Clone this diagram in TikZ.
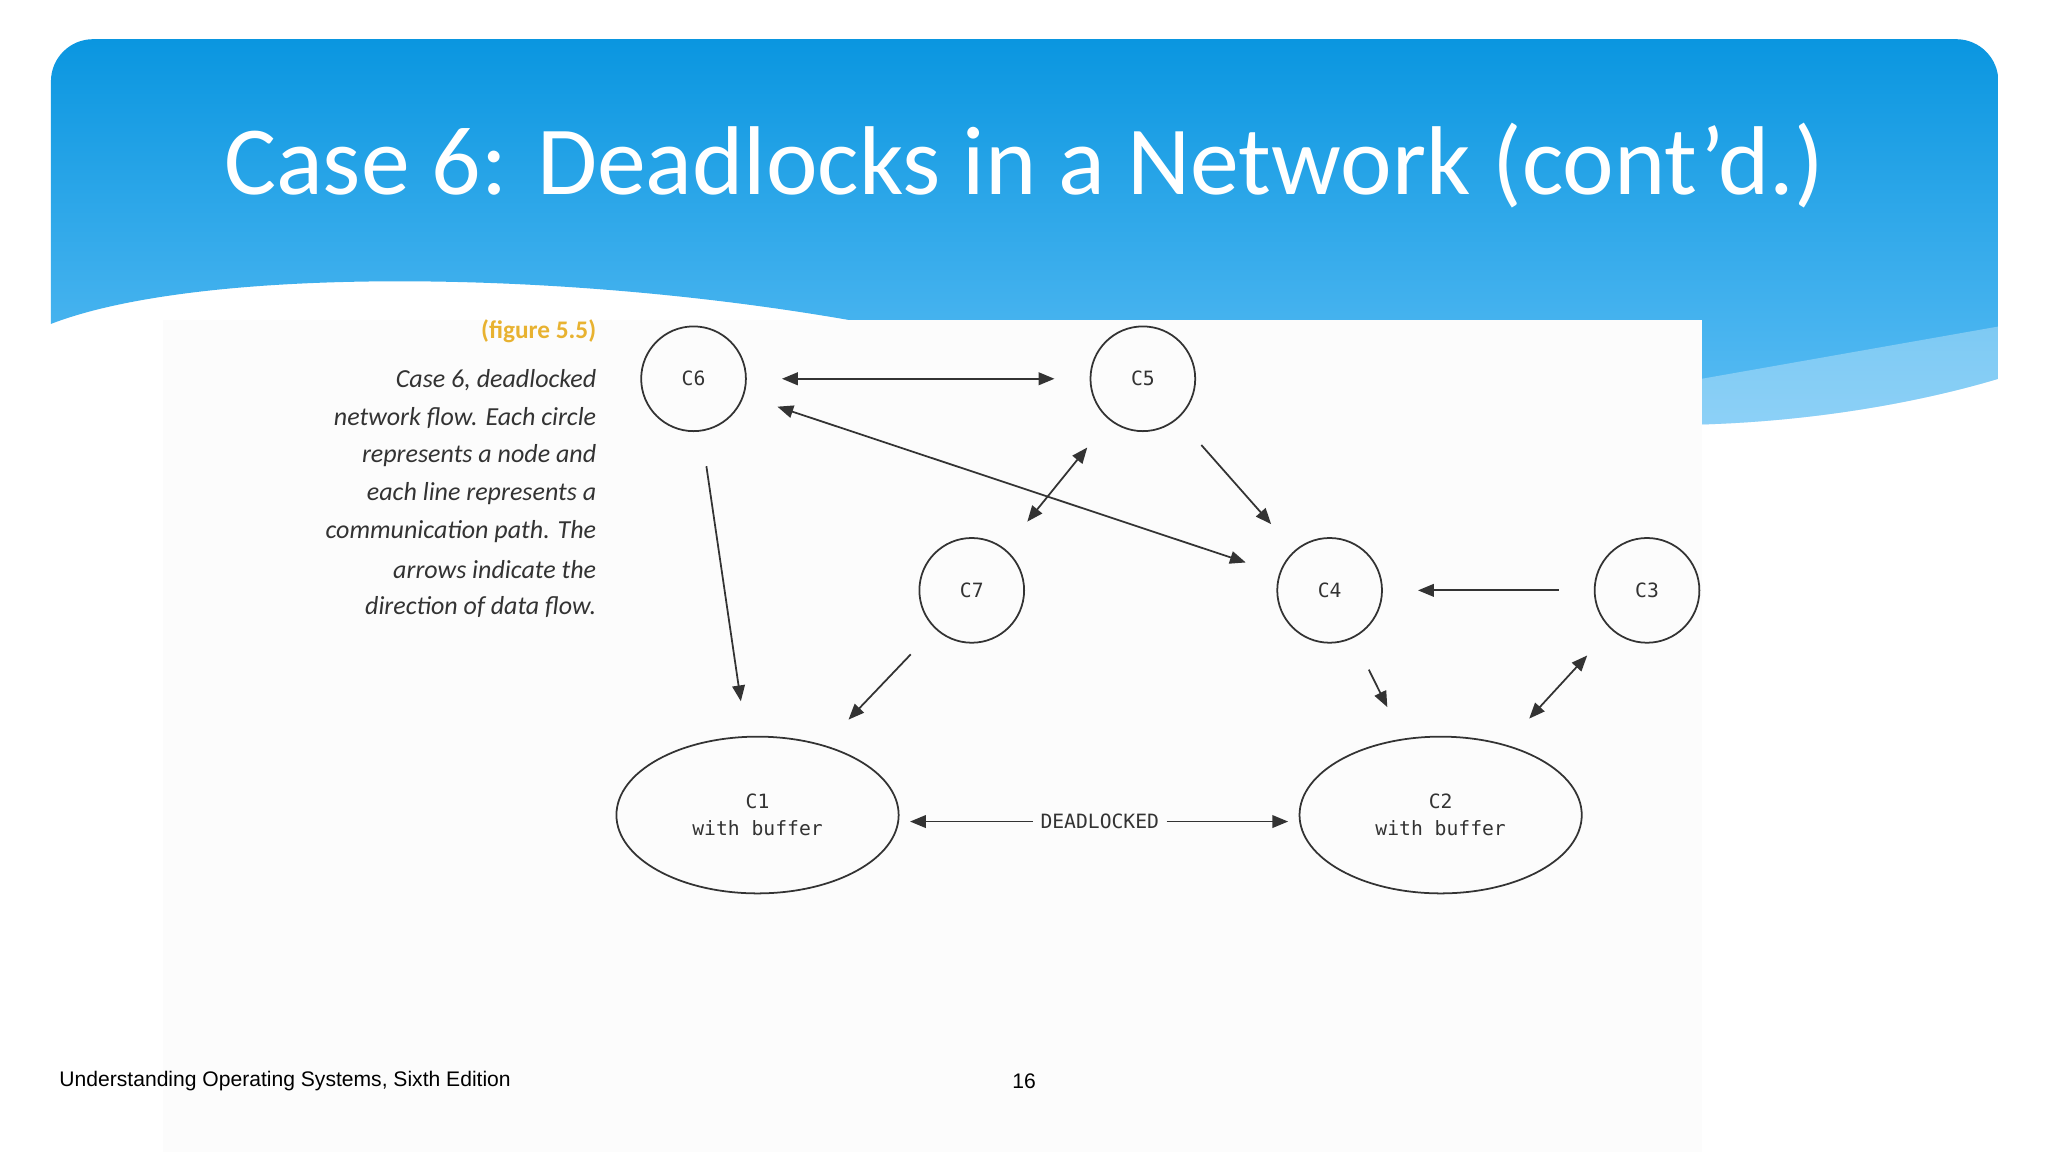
\documentclass[tikz,border=0pt]{standalone}
\usepackage{fontspec}
\setmainfont{Carlito}
\newfontfamily\monof{DejaVu Sans Mono}
\newfontfamily\footf{Liberation Sans}
\usetikzlibrary{arrows.meta,shapes.geometric}
\definecolor{topblue}{HTML}{0A96E0}
\definecolor{botblue}{HTML}{5BBDF4}
\definecolor{figyel}{HTML}{E8B230}
\definecolor{ink}{HTML}{333333}
\begin{document}
\begin{tikzpicture}[x=0.013061cm,y=-0.013061cm,
  circ/.style={circle,draw=ink,line width=0.5pt,minimum size=29.8pt,inner sep=0pt,font=\monof\fontsize{5.6}{7}\selectfont,text=ink},
  ell/.style={ellipse,draw=ink,line width=0.5pt,minimum width=80.3pt,minimum height=44.6pt,inner sep=0pt,align=center,font=\monof\fontsize{5.6}{7.6}\selectfont,text=ink},
  flow/.style={draw=ink,line width=0.5pt,-{Triangle[length=4.5pt,width=3.6pt]},shorten >=10pt,shorten <=10pt},
  both/.style={flow,{Triangle[length=4.5pt,width=3.6pt]}-{Triangle[length=4.5pt,width=3.6pt]}},
  captxt/.style={anchor=east,inner sep=0pt,font=\itshape\fontsize{7.4}{8}\selectfont,text=ink}]
\useasboundingbox (0,0) rectangle (1568,882);
\fill[white] (0,0) rectangle (1568,882);
% header
\shade[top color=topblue,bottom color=botblue,rounded corners=12]
  (39,248) [sharp corners] .. controls (150,205) and (420,205) .. (650,245) -- (1303,245) -- (1303,325)
  .. controls (1400,322) and (1480,305) .. (1530,290) [rounded corners=12] -- (1530,30) -- (39,30) [sharp corners] -- cycle;
\fill[white,opacity=0.3] (1303,290) -- (1530,250) -- (1530,290) .. controls (1480,305) and (1400,322) .. (1303,325) -- cycle;
\fill[white!98!gray] (125,245) rectangle (1303,882);
\node[text=white,font=\fontsize{27.8}{32}\selectfont] (title) at (784,127) {Case 6: Deadlocks in a Network (cont\symbol{39}d.)};
% caption
\node[captxt,font=\bfseries\fontsize{7.2}{8}\selectfont,text=figyel] (fig) at (457,254) {(figure 5.5)};
\node[captxt] (l1) at (457,291) {Case 6, deadlocked};
\node[captxt] (l2) at (457,320) {network flow. Each circle};
\node[captxt] (l3) at (457,349) {represents a node and};
\node[captxt] (l4) at (457,378) {each line represents a};
\node[captxt] (l5) at (457,407) {communication path. The};
\node[captxt] (l6) at (457,436) {arrows indicate the};
\node[captxt] (l7) at (457,465) {direction of data flow.};
% nodes
\node[circ] (C6) at (531,290) {C6};
\node[circ] (C5) at (875,290) {C5};
\node[circ] (C7) at (744,452) {C7};
\node[circ] (C4) at (1018,452) {C4};
\node[circ] (C3) at (1261,452) {C3};
\node[ell] (C1) at (580,624) {C1\\with buffer};
\node[ell] (C2) at (1103,624) {C2\\with buffer};
\node[font=\monof\fontsize{5.6}{7}\selectfont,text=ink,inner sep=2pt] (DL) at (842,629) {DEADLOCKED};
% connectors
\draw[both] (C6) -- (C5);
\draw[both] (C6) -- (C4);
\draw[both] (C5) -- (C7);
\draw[flow] (C5) -- (C4);
\draw[flow] (C6) -- (C1);
\draw[flow] (C7) -- (C1);
\draw[flow] (C3) -- (C4);
\draw[flow] (C4) -- (C2);
\draw[both] (C3) -- (C2);
\draw[flow,shorten <=0pt,shorten >=3pt] (DL.west) -- (C1.east |- DL.west);
\draw[flow,shorten <=0pt,shorten >=3pt] (DL.east) -- (C2.west |- DL.east);
% footer
\node[anchor=west,inner sep=0pt,font=\footf\fontsize{6}{7}\selectfont] (foot) at (45,828) {Understanding Operating Systems, Sixth Edition};
\node[font=\footf\fontsize{6}{7}\selectfont] (pg) at (784,828) {16};
\end{tikzpicture}
\end{document}
